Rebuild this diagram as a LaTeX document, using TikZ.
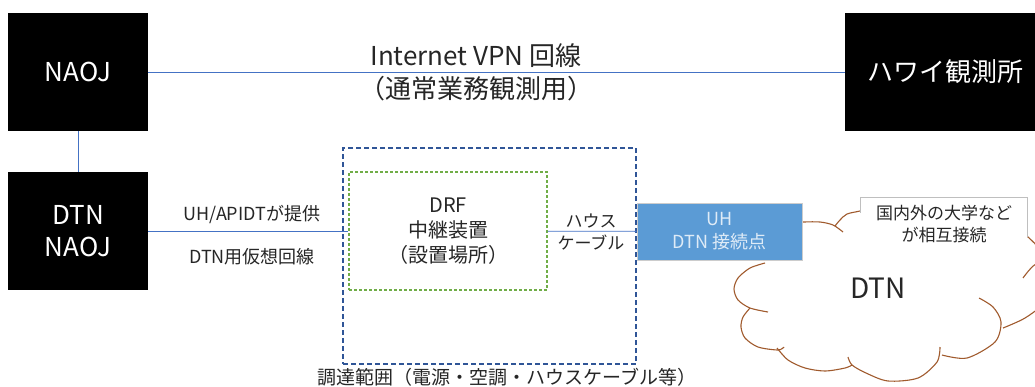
\documentclass[tikz,border=0pt]{standalone}
\usepackage{fontspec}
\setmainfont{Noto Sans CJK JP}
\definecolor{linkblue}{RGB}{68,114,196}
\definecolor{rangeblue}{RGB}{47,85,151}
\definecolor{relaygreen}{RGB}{112,173,71}
\definecolor{uhfill}{RGB}{91,155,213}
\definecolor{uhtext}{RGB}{222,235,247}
\definecolor{cloudbrown}{RGB}{160,90,45}
\definecolor{ink}{RGB}{38,38,38}
\newcommand{\sitefont}{\fontsize{26}{32}\selectfont}
\newcommand{\vpnfont}{\fontsize{26}{33}\selectfont}
\newcommand{\relayfont}{\fontsize{20}{25}\selectfont}
\newcommand{\labfont}{\fontsize{18}{23}\selectfont}
\newcommand{\rangefont}{\fontsize{19}{23}\selectfont}
\newcommand{\cablefont}{\fontsize{17}{22}\selectfont}
\newcommand{\dtnfont}{\fontsize{28}{32}\selectfont}
\tikzset{
  site/.style={fill=black, text=white, minimum width=140pt, minimum height=118pt,
    inner sep=0pt, align=center, font=\sitefont},
  link/.style={draw=linkblue, line width=0.8pt},
  rangebox/.style={draw=rangeblue, line width=1.3pt, dash pattern=on 5pt off 3pt,
    minimum width=293pt, minimum height=216pt, inner sep=0pt},
  relaybox/.style={draw=relaygreen, line width=1.2pt, dash pattern=on 3pt off 2pt,
    minimum width=198pt, minimum height=118pt, inner sep=0pt, align=center,
    font=\relayfont, text=ink},
  uhbox/.style={fill=uhfill, draw=black!20, line width=1pt, minimum width=165pt,
    minimum height=57pt, inner sep=0pt, align=center, font=\labfont, text=uhtext},
  lab/.style={font=\labfont, text=ink, align=center},
  cloudline/.style={draw=cloudbrown, line width=1.1pt},
}
\begin{document}
\begin{tikzpicture}[x=1pt, y=-1pt]
\useasboundingbox (0,0) rectangle (1035,386);
\clip (0,0) rectangle (1035,386);
% sites
\node[site] (naoj) at (78,72) {NAOJ};
\node[site] (dtnnaoj) at (78,231) {DTN\\NAOJ};
\node[site, minimum width=200pt] (hawaii) at (945,72) {ハワイ観測所};
\draw[link] (naoj) -- (hawaii);
\draw[link] (naoj) -- (dtnnaoj);
\node[font=\vpnfont, text=ink, align=center] (vpn) at (476,72) {Internet VPN 回線\\（通常業務観測用）};
% procurement range and relay
\node[rangebox] (range) at (489.5,256) {};
\node[font=\rangefont, text=ink] (rangelab) at (507,377) {調達範囲（電源・空調・ハウスケーブル等）};
\node[relaybox] (drf) at (448,231) {DRF\\中継装置\\（設置場所）};
\draw[link] (dtnnaoj) -- (drf);
\node[lab] (provider) at (252,214) {UH/APIDTが提供};
\node[lab] (vline) at (252,257) {DTN用仮想回線};
% DTN cloud
\draw[cloudline] plot[smooth] coordinates {(790,223) (804,222) (820,222) (833,225) (843,232)};
\draw[cloudline] plot[smooth] coordinates {(835,226) (840,220) (847,214) (860,211) (880,206)};
\draw[cloudline] plot[smooth] coordinates {(1010,222) (1028,237) (1040,250) (1048,270)};
\draw[cloudline] plot[smooth] coordinates {(1023,278) (1037,264) (1050,282) (1045,302) (1025,318) (1003,328)};
\draw[cloudline] plot[smooth] coordinates {(979,298) (993,307) (1001,322) (995,342) (967,358) (942,355)};
\draw[cloudline] plot[smooth] coordinates {(940,347) (937,362) (918,378) (888,381) (866,373) (852,365) (848,357)};
\draw[cloudline] plot[smooth] coordinates {(852,365) (845,368) (825,371) (805,368) (788,360) (777,348)};
\draw[cloudline] plot[smooth] coordinates {(784,347) (778,350) (758,347) (745,338) (741,327) (743,317) (750,308)};
\draw[cloudline] plot[smooth] coordinates {(768,312) (750,308) (738,300) (734,289) (738,278) (750,268) (765,263)};
\node[font=\dtnfont, text=ink] (dtn) at (878,288) {DTN};
\node[uhbox] (uh) at (719.5,231.5) {UH\\DTN 接続点};
\draw[link] (drf) -- (uh);
\node[font=\cablefont, text=ink, align=center] (cable) at (591,232) {ハウス\\ケーブル};
\node[fill=white, minimum width=166pt, minimum height=52pt, inner sep=0pt,
  font=\cablefont, text=ink, align=center] (note) at (944,224) {国内外の大学など\\が相互接続};
\draw[black!25, line width=0.8pt] ([yshift=-15pt]note.north west) -- (note.north west)
  -- (note.north east) -- ([yshift=-39pt]note.north east);
\end{tikzpicture}
\end{document}
